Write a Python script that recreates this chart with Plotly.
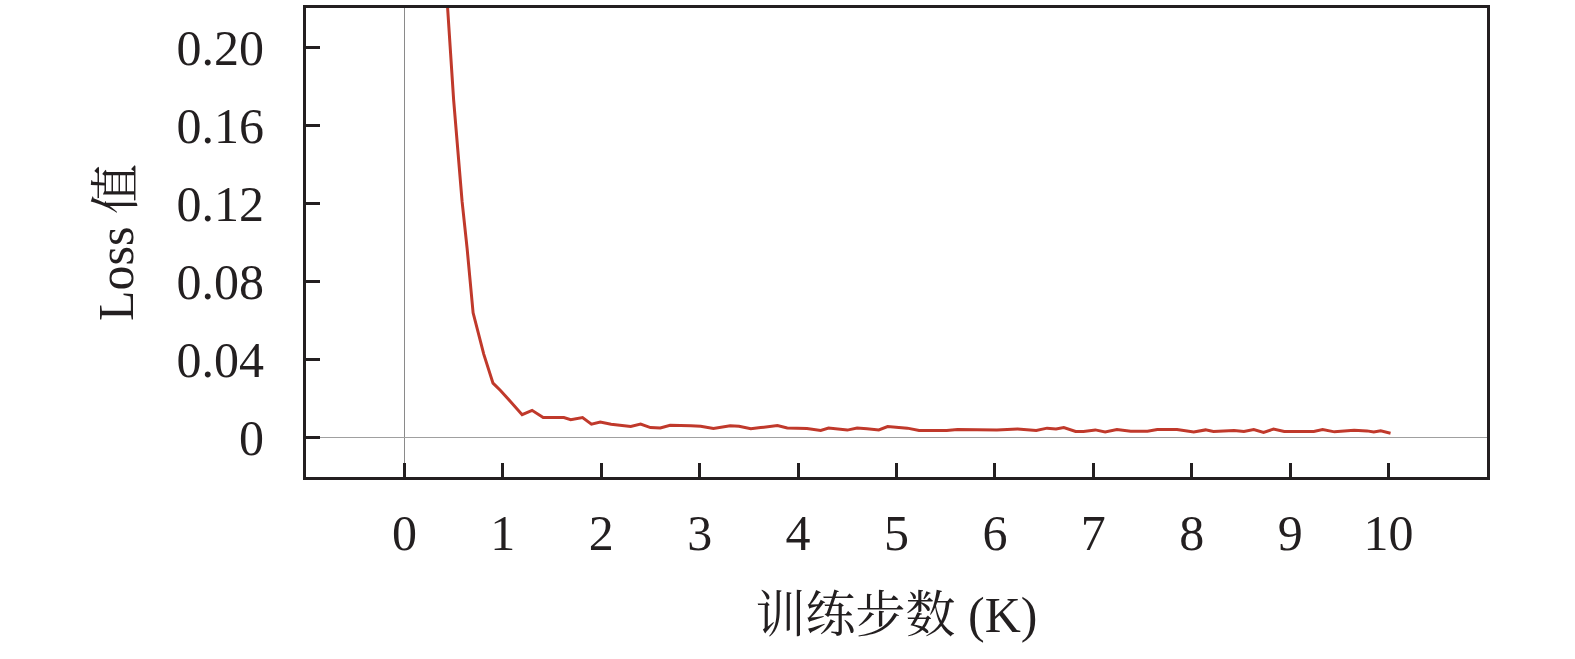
import plotly.graph_objects as go

# Training steps (K)
steps = [0.40, 0.434, 0.50, 0.586, 0.637, 0.698, 0.745, 0.806, 0.90, 0.976,
         1.196, 1.297, 1.41, 1.62, 1.69, 1.81, 1.90, 1.99, 2.10, 2.20,
         2.30, 2.40, 2.50, 2.60, 2.70, 2.91, 3.01, 3.14, 3.31, 3.40,
         3.52, 3.62, 3.79, 3.89, 4.09, 4.23, 4.31, 4.50, 4.60, 4.70,
         4.82, 4.91, 5.11, 5.23, 5.51, 5.62, 5.92, 6.02, 6.23, 6.42,
         6.53, 6.62, 6.70, 6.82, 6.90, 7.02, 7.12, 7.24, 7.38, 7.55,
         7.65, 7.85, 8.02, 8.14, 8.22, 8.43, 8.53, 8.63, 8.73, 8.83,
         8.94, 9.11, 9.24, 9.33, 9.45, 9.65, 9.78, 9.85, 9.92, 10.02]
# Loss values
loss = [0.250, 0.2225, 0.173, 0.121, 0.097, 0.064, 0.0548, 0.0429, 0.028, 0.0243,
        0.0119, 0.0141, 0.0104, 0.0104, 0.0093, 0.0104, 0.0070, 0.0081, 0.0070, 0.0065,
        0.0059, 0.0071, 0.0053, 0.0051, 0.0065, 0.0062, 0.0060, 0.0048, 0.0062, 0.0060,
        0.0047, 0.0053, 0.0063, 0.0051, 0.0048, 0.0038, 0.0051, 0.0040, 0.0051, 0.0047,
        0.0041, 0.0058, 0.0050, 0.0038, 0.0038, 0.0043, 0.0041, 0.0040, 0.0046, 0.0038,
        0.0050, 0.0046, 0.0053, 0.0033, 0.0033, 0.0041, 0.0031, 0.0043, 0.0034, 0.0034,
        0.0043, 0.0043, 0.0030, 0.0041, 0.0033, 0.0038, 0.0033, 0.0043, 0.0028, 0.0045,
        0.0033, 0.0033, 0.0033, 0.0043, 0.0031, 0.0039, 0.0036, 0.0030, 0.0036, 0.0024]

x_ticks = [0, 1, 2, 3, 4, 5, 6, 7, 8, 9, 10]
x_tick_labels = ["0", "1", "2", "3", "4", "5", "6", "7", "8", "9", "10"]
y_ticks = [0, 0.04, 0.08, 0.12, 0.16, 0.20]
y_tick_labels = ["0", "0.04", "0.08", "0.12", "0.16", "0.20"]

FONT = "Times New Roman, Liberation Serif, Noto Serif CJK SC, Noto Sans CJK SC, serif"
AX = "#231f20"

fig = go.Figure()
fig.add_trace(go.Scatter(x=steps, y=loss, mode="lines",
                         line=dict(color="#c0392b", width=3),
                         showlegend=False))

fig.update_layout(
    width=1575, height=659,
    margin=dict(l=306, r=88, t=5, b=182),
    paper_bgcolor="white", plot_bgcolor="white",
    font=dict(family=FONT, size=50, color="#231f20"),
)
fig.update_xaxes(
    range=[-1, 11], tickvals=x_ticks, ticktext=x_tick_labels,
    showline=True, mirror=True, linecolor=AX, linewidth=3,
    ticks="inside", ticklen=14, tickwidth=2.5, tickcolor=AX,
    showgrid=False, zeroline=True, zerolinecolor="#8a8a8a", zerolinewidth=1,
    ticklabelstandoff=10,
    title=dict(text="训练步数 (K)", standoff=37, font=dict(size=50)),
    tickfont=dict(size=50),
)
fig.update_yaxes(
    range=[-0.02, 0.22], tickvals=y_ticks, ticktext=y_tick_labels,
    showline=True, mirror=True, linecolor=AX, linewidth=3,
    ticks="inside", ticklen=14, tickwidth=2.5, tickcolor=AX,
    showgrid=False, zeroline=True, zerolinecolor="#a0a0a0", zerolinewidth=1,
    ticklabelstandoff=29,
    title=dict(text="Loss 值", standoff=28, font=dict(size=50)),
    tickfont=dict(size=50),
)

fig.write_html("out.html", config={"displayModeBar": False},
               post_script="document.body.style.margin='0';document.body.style.overflow='hidden';")
